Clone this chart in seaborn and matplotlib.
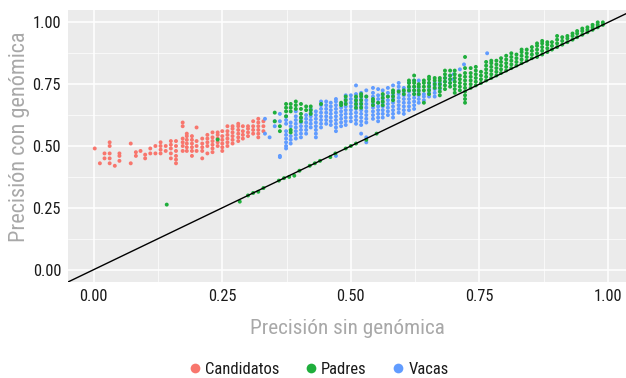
import numpy as np
import pandas as pd
import matplotlib
matplotlib.use("Agg")
import matplotlib.pyplot as plt
import seaborn as sns

# group names and colours (ggplot default hues)
grupos = ["Candidatos", "Padres", "Vacas"]
colores = ["#F8766D", "#1FAE3C", "#619CFF"]

# Candidatos: column x positions and the y values in each column
cand_x = [0.002, 0.012, 0.021, 0.031, 0.041, 0.05, 0.072, 0.082, 0.091, 0.10,
          0.11, 0.12, 0.13, 0.14, 0.15, 0.16, 0.173, 0.181, 0.191, 0.20,
          0.211, 0.221, 0.231, 0.241, 0.25, 0.26, 0.27, 0.281, 0.29, 0.30,
          0.31, 0.32, 0.33]
cand_y = [[0.49], [0.43], [0.45, 0.47], [0.43, 0.45, 0.47, 0.50, 0.515], [0.42],
          [0.44, 0.46, 0.47], [0.43, 0.51], [0.46, 0.475], [0.48], [0.45, 0.465],
          [0.47, 0.49], [0.47, 0.50], [0.47, 0.485, 0.50, 0.515], [0.48, 0.50],
          [0.45, 0.47, 0.49, 0.505, 0.52],
          [0.43, 0.445, 0.46, 0.48, 0.50, 0.52],
          [0.48, 0.50, 0.515, 0.53, 0.58, 0.595],
          [0.48, 0.495, 0.51, 0.525, 0.54, 0.55],
          [0.46, 0.48, 0.495, 0.51, 0.525, 0.54],
          [0.48, 0.50, 0.52, 0.575],
          [0.45, 0.48, 0.495, 0.51, 0.53],
          [0.47, 0.50, 0.515, 0.53, 0.545],
          [0.475, 0.49, 0.505, 0.52, 0.535, 0.555],
          [0.50, 0.515, 0.53, 0.545, 0.555],
          [0.48, 0.495, 0.51, 0.525, 0.54, 0.56],
          [0.50, 0.515, 0.53, 0.545, 0.56, 0.58],
          [0.51, 0.525, 0.54, 0.555, 0.57, 0.58],
          [0.52, 0.535, 0.55, 0.565, 0.58, 0.59],
          [0.53, 0.545, 0.56, 0.58],
          [0.54, 0.555, 0.57, 0.58],
          [0.55, 0.565, 0.58, 0.60],
          [0.535, 0.55, 0.565, 0.58, 0.595, 0.61],
          [0.56, 0.58, 0.60]]

# Vacas
vac_x = [0.333, 0.342, 0.352, 0.362, 0.374, 0.383, 0.393, 0.403, 0.413, 0.422,
         0.432, 0.442, 0.452, 0.461, 0.471, 0.481, 0.49, 0.50, 0.51, 0.52,
         0.53, 0.543, 0.553, 0.562, 0.572, 0.582, 0.593, 0.603, 0.613, 0.623,
         0.632, 0.642, 0.652, 0.663, 0.673, 0.683, 0.693, 0.70, 0.712, 0.72,
         0.765]
vac_y = [[0.55, 0.61], [0.535], [0.58, 0.60], [0.455, 0.46, 0.60, 0.63],
         [0.49, 0.50, 0.515, 0.53, 0.545, 0.56, 0.59, 0.605, 0.62],
         [0.51, 0.525, 0.54, 0.58, 0.595],
         [0.53, 0.545, 0.56, 0.575, 0.59, 0.605, 0.62, 0.64],
         [0.535, 0.55, 0.565, 0.58, 0.595, 0.61],
         [0.55, 0.565, 0.58, 0.595, 0.61, 0.625],
         [0.575, 0.59, 0.605, 0.62, 0.635, 0.65],
         [0.535, 0.55, 0.565, 0.58, 0.595, 0.61, 0.625, 0.64],
         [0.575, 0.59, 0.605, 0.62, 0.635, 0.65, 0.665, 0.68],
         [0.59, 0.605, 0.62, 0.635, 0.65, 0.665, 0.68],
         [0.585, 0.60, 0.615, 0.63, 0.645, 0.66, 0.675],
         [0.46, 0.56, 0.575, 0.59, 0.605, 0.62, 0.635, 0.65, 0.665, 0.68, 0.69],
         [0.58, 0.595, 0.61, 0.625, 0.64, 0.655, 0.67],
         [0.585, 0.60, 0.615, 0.63, 0.645, 0.66, 0.675, 0.69, 0.705],
         [0.60, 0.615, 0.63, 0.645, 0.66, 0.675, 0.69, 0.705],
         [0.59, 0.605, 0.62, 0.635, 0.65, 0.665, 0.68, 0.695, 0.71, 0.745],
         [0.55, 0.585, 0.60, 0.615, 0.63, 0.645, 0.66, 0.675, 0.69, 0.705, 0.715],
         [0.515, 0.535, 0.595, 0.61, 0.625, 0.64, 0.655, 0.67, 0.685, 0.70, 0.725],
         [0.61, 0.625, 0.64, 0.655, 0.67, 0.685, 0.70, 0.715, 0.735],
         [0.60, 0.615, 0.63, 0.645, 0.66, 0.675, 0.69, 0.705, 0.73],
         [0.615, 0.63, 0.645, 0.66, 0.675, 0.69, 0.705, 0.725],
         [0.625, 0.64, 0.655, 0.67, 0.685, 0.70, 0.715, 0.735],
         [0.615, 0.63, 0.645, 0.66, 0.675, 0.69, 0.705, 0.72, 0.745],
         [0.635, 0.65, 0.665, 0.68, 0.695, 0.71, 0.725, 0.74, 0.755],
         [0.63, 0.645, 0.66, 0.675, 0.69, 0.705, 0.72, 0.735],
         [0.645, 0.66, 0.675, 0.69, 0.705, 0.72, 0.735, 0.755],
         [0.65, 0.665, 0.68, 0.695, 0.71, 0.725, 0.74, 0.765],
         [0.675, 0.69, 0.705, 0.72, 0.735, 0.75, 0.765],
         [0.685, 0.70, 0.71],
         [0.70, 0.715, 0.73, 0.745, 0.755],
         [0.70, 0.715, 0.73, 0.745, 0.755],
         [0.73, 0.745, 0.755],
         [0.76, 0.775],
         [0.755, 0.77, 0.785],
         [0.77, 0.79], [0.81], [0.83], [0.875]]

# Padres
pad_x = [0.142, 0.241, 0.284, 0.30, 0.31, 0.32, 0.33, 0.36, 0.37, 0.38, 0.39,
         0.40, 0.42, 0.43, 0.44, 0.46, 0.47, 0.49, 0.50, 0.51, 0.53, 0.55,
         0.352, 0.362, 0.374, 0.383, 0.393, 0.403, 0.413, 0.422, 0.442, 0.481,
         0.49, 0.51, 0.52, 0.53, 0.543, 0.553, 0.562, 0.572, 0.582, 0.593,
         0.603, 0.613, 0.623, 0.632, 0.642, 0.652, 0.663, 0.673, 0.683, 0.693,
         0.702, 0.712, 0.722, 0.733, 0.743, 0.753, 0.763, 0.773, 0.783, 0.792,
         0.802, 0.812, 0.822, 0.832, 0.842, 0.852, 0.862, 0.872, 0.882, 0.891,
         0.901, 0.911, 0.921, 0.931, 0.94, 0.95, 0.96, 0.97, 0.98, 0.99]
pad_y = [[0.263], [0.526], [0.275], [0.30], [0.31], [0.315], [0.33], [0.36],
         [0.37], [0.375], [0.38], [0.40], [0.42], [0.43], [0.44], [0.455],
         [0.47], [0.49], [0.50], [0.51], [0.525], [0.55],
         [0.60, 0.635], [0.56, 0.58], [0.62, 0.64, 0.655, 0.67],
         [0.555, 0.565, 0.64, 0.655, 0.67], [0.65, 0.665, 0.68],
         [0.60, 0.615, 0.63, 0.65, 0.67], [0.645, 0.66], [0.63, 0.645, 0.66],
         [0.67], [0.665, 0.675], [0.67, 0.685, 0.70], [0.655, 0.67, 0.685, 0.70],
         [0.655, 0.67, 0.685, 0.70, 0.71], [0.70], [0.665, 0.68, 0.69], [0.675],
         [0.665, 0.68, 0.695, 0.71], [0.70], [0.685, 0.70, 0.715, 0.725], [0.72],
         [0.71, 0.725], [0.725, 0.74, 0.755, 0.765],
         [0.71, 0.725, 0.74, 0.755, 0.765, 0.785], [0.71, 0.725, 0.74, 0.75],
         [0.675, 0.725, 0.74, 0.755, 0.765], [0.71, 0.725, 0.74, 0.755, 0.77, 0.78],
         [0.735, 0.75, 0.765, 0.775], [0.705, 0.72, 0.735, 0.75, 0.765, 0.775],
         [0.73, 0.745, 0.76, 0.775, 0.79, 0.805], [0.74, 0.755, 0.77, 0.785, 0.805],
         [0.715, 0.73, 0.745, 0.76, 0.775, 0.79, 0.805],
         [0.725, 0.74, 0.755, 0.77, 0.785],
         [0.675, 0.69, 0.705, 0.72, 0.735, 0.75, 0.765, 0.78, 0.795, 0.815, 0.86],
         [0.735, 0.75, 0.765, 0.78, 0.795, 0.815],
         [0.745, 0.76, 0.775, 0.79, 0.805, 0.82],
         [0.755, 0.77, 0.785, 0.80],
         [0.765, 0.78, 0.795, 0.81, 0.825, 0.84],
         [0.775, 0.79, 0.805, 0.82, 0.835, 0.845],
         [0.785, 0.80, 0.815, 0.83, 0.845],
         [0.795, 0.81, 0.825, 0.84, 0.855],
         [0.805, 0.82, 0.835, 0.85, 0.865],
         [0.815, 0.83, 0.845, 0.86, 0.875],
         [0.825, 0.84, 0.855, 0.87],
         [0.835, 0.85, 0.865, 0.88, 0.89],
         [0.845, 0.86, 0.875, 0.89],
         [0.855, 0.87, 0.885, 0.90],
         [0.86, 0.875, 0.89, 0.905, 0.915],
         [0.87, 0.885, 0.90, 0.915, 0.925],
         [0.88, 0.895, 0.91, 0.92],
         [0.89, 0.905, 0.92],
         [0.90, 0.915, 0.93, 0.945],
         [0.91, 0.925, 0.94],
         [0.92, 0.935, 0.945],
         [0.93, 0.945, 0.955],
         [0.94, 0.955, 0.965],
         [0.95, 0.965, 0.975],
         [0.96, 0.97, 0.98],
         [0.97, 0.98, 0.99],
         [0.98, 0.99, 1.0],
         [0.99, 1.0]]

ticks = [0.0, 0.25, 0.5, 0.75, 1.0]
tick_labels = ["0.00", "0.25", "0.50", "0.75", "1.00"]


def flatten(xs, ys, name):
    rows = [(x, y, name) for x, col in zip(xs, ys) for y in col]
    return pd.DataFrame(rows, columns=["sin", "con", "grupo"])


# drawing order: candidatos, vacas, padres (padres on top)
df = pd.concat([flatten(cand_x, cand_y, "Candidatos"),
                flatten(vac_x, vac_y, "Vacas"),
                flatten(pad_x, pad_y, "Padres")], ignore_index=True)

sns.set_theme(style="darkgrid")
plt.rcParams["font.family"] = ["Roboto Condensed", "Liberation Sans Narrow",
                               "Roboto", "DejaVu Sans"]

fig = plt.figure(figsize=(6.26, 3.78), dpi=100)
ax = fig.add_axes([68 / 626, 1 - 282 / 378, (626 - 68) / 626, (282 - 10) / 378])
ax.set_facecolor("#EBEBEB")

sns.scatterplot(data=df, x="sin", y="con", hue="grupo", hue_order=grupos,
                palette=colores, s=8, linewidth=0, ax=ax)
ax.axline((0, 0), slope=1, color="black", lw=1.0, zorder=3)

ax.set_xlim(-0.05, 1.035)
ax.set_ylim(-0.05, 1.05)
ax.set_xticks(ticks, tick_labels)
ax.set_yticks(ticks, tick_labels)
ax.set_xticks([0.125, 0.375, 0.625, 0.875], minor=True)
ax.set_yticks([0.125, 0.375, 0.625, 0.875], minor=True)
ax.grid(which="major", color="white", lw=1.1)
ax.grid(which="minor", color="white", lw=0.5)
for s in ax.spines.values():
    s.set_visible(False)
ax.tick_params(which="major", length=3, width=0.8, color="#555555",
               labelsize=11.8, labelcolor="#1a1a1a", pad=2)
ax.tick_params(which="minor", length=0)

ax.set_xlabel("Precisión sin genómica", fontsize=15.3, color="#a8a8a8")
ax.set_ylabel("Precisión con genómica", fontsize=16, color="#a8a8a8")
ax.xaxis.set_label_coords(0.5, -0.135)
ax.yaxis.set_label_coords(-0.068, 0.535)

sns.move_legend(ax, "center", bbox_to_anchor=(0.51, 0.022),
                bbox_transform=fig.transFigure, ncol=3, frameon=False,
                title=None, fontsize=12, handlelength=0.6, handletextpad=0.3,
                columnspacing=1.6, borderaxespad=0)
leg = ax.get_legend()
for h in leg.legend_handles:
    try:
        h.set_markersize(7)
    except AttributeError:
        h.set_sizes([45])
for t in leg.get_texts():
    t.set_color("#1a1a1a")

fig.savefig("out.png", dpi=100, facecolor="white")
